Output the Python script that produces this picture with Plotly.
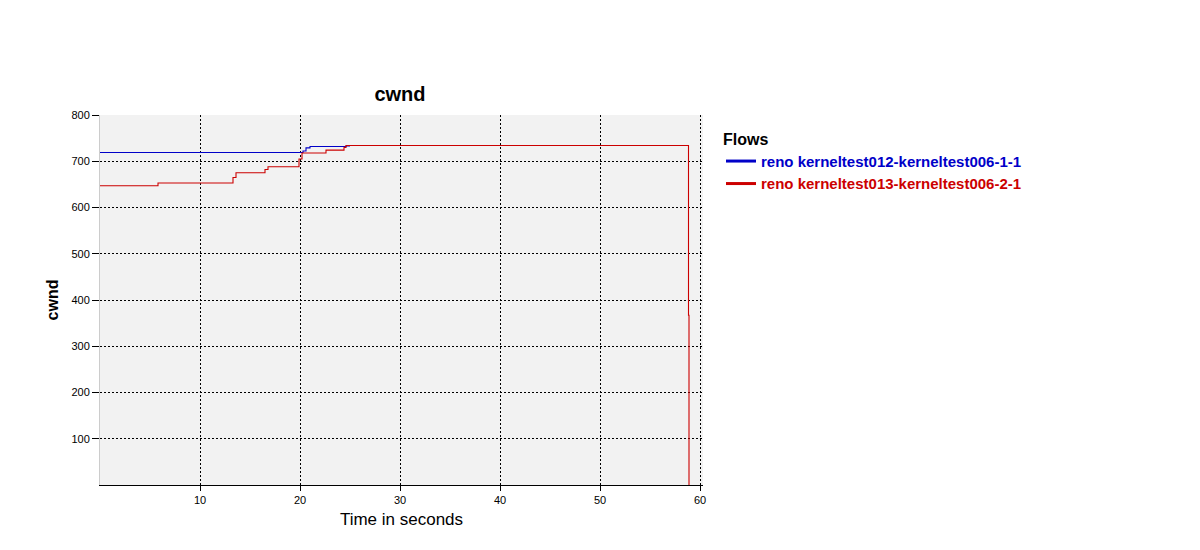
import plotly.graph_objects as go

# Flow 1 (blue)
t1 = [0.0, 20.3, 20.6, 21.0, 24.6, 25.0]
cwnd1 = [719, 722, 729, 732, 733, 733]

# Flow 2 (red)
t2 = [0.0, 5.8, 13.3, 13.6, 16.5, 16.8, 19.9, 20.2, 22.6, 24.4, 24.6, 58.75, 58.85, 58.9]
cwnd2 = [647, 653, 665, 675, 682, 688, 705, 718, 724, 730, 734, 734, 367, 0]

name1 = "reno kerneltest012-kerneltest006-1-1"
name2 = "reno kerneltest013-kerneltest006-2-1"
blue = "#0000c8"
red = "#cc0000"

OFF = 8  # page body margin
L, R, T, B = 100, 703, 115, 485  # plot area in screenshot px

fig = go.Figure()
fig.add_trace(go.Scatter(x=t1, y=cwnd1, mode="lines", line=dict(color=blue, width=1.1, shape="hv"),
                         showlegend=False, hoverinfo="x+y"))
fig.add_trace(go.Scatter(x=t2, y=cwnd2, mode="lines", line=dict(color=red, width=1.1, shape="hv"),
                         showlegend=False, hoverinfo="x+y"))
# legend entries (thicker sample lines)
fig.add_trace(go.Scatter(x=[None], y=[None], mode="lines", line=dict(color=blue, width=3),
                         name=f"<span style='color:{blue}'><b>{name1}</b></span>"))
fig.add_trace(go.Scatter(x=[None], y=[None], mode="lines", line=dict(color=red, width=3),
                         name=f"<span style='color:{red}'><b>{name2}</b></span>"))

fig.update_layout(
    width=1200, height=550,
    margin=dict(l=L - OFF, r=1200 - (R - OFF), t=T - OFF, b=550 - (B - OFF), autoexpand=False),
    paper_bgcolor="white", plot_bgcolor="#f2f2f2",
    font=dict(family="Liberation Sans, Arial, sans-serif", color="black"),
    title=dict(text="<b>cwnd</b>", x=(400 - OFF) / 1200, xanchor="center", y=1 - (94 - OFF) / 550,
               yanchor="middle", font=dict(size=20)),
    showlegend=True,
    legend=dict(x=(721 - L) / (R - L), y=1 - 9 / 370, xanchor="left", yanchor="top",
                title=dict(text="<b>Flows</b>", font=dict(size=16)),
                font=dict(size=15), bgcolor="rgba(0,0,0,0)", tracegroupgap=0, itemwidth=30),
)
fig.update_xaxes(range=[0, 60.3], tickvals=[10, 20, 30, 40, 50, 60], showgrid=True, gridcolor="black",
                 griddash="2px,2px", gridwidth=1, zeroline=False, showline=True, linecolor="black",
                 ticks="outside", ticklen=5, tickcolor="black", tickfont=dict(size=11), automargin=False,
                 title=dict(text="Time in seconds", font=dict(size=17), standoff=7))
fig.update_yaxes(range=[0, 800], tickvals=[100, 200, 300, 400, 500, 600, 700, 800], showgrid=True,
                 gridcolor="black", griddash="2px,2px", gridwidth=1, zeroline=False, showline=True,
                 linecolor="#cccccc", ticks="outside", ticklen=7, tickcolor="black", tickfont=dict(size=11),
                 automargin=False,
                 title=dict(text="<b>cwnd</b>", font=dict(size=16), standoff=8))

fig.write_html("out.html")
